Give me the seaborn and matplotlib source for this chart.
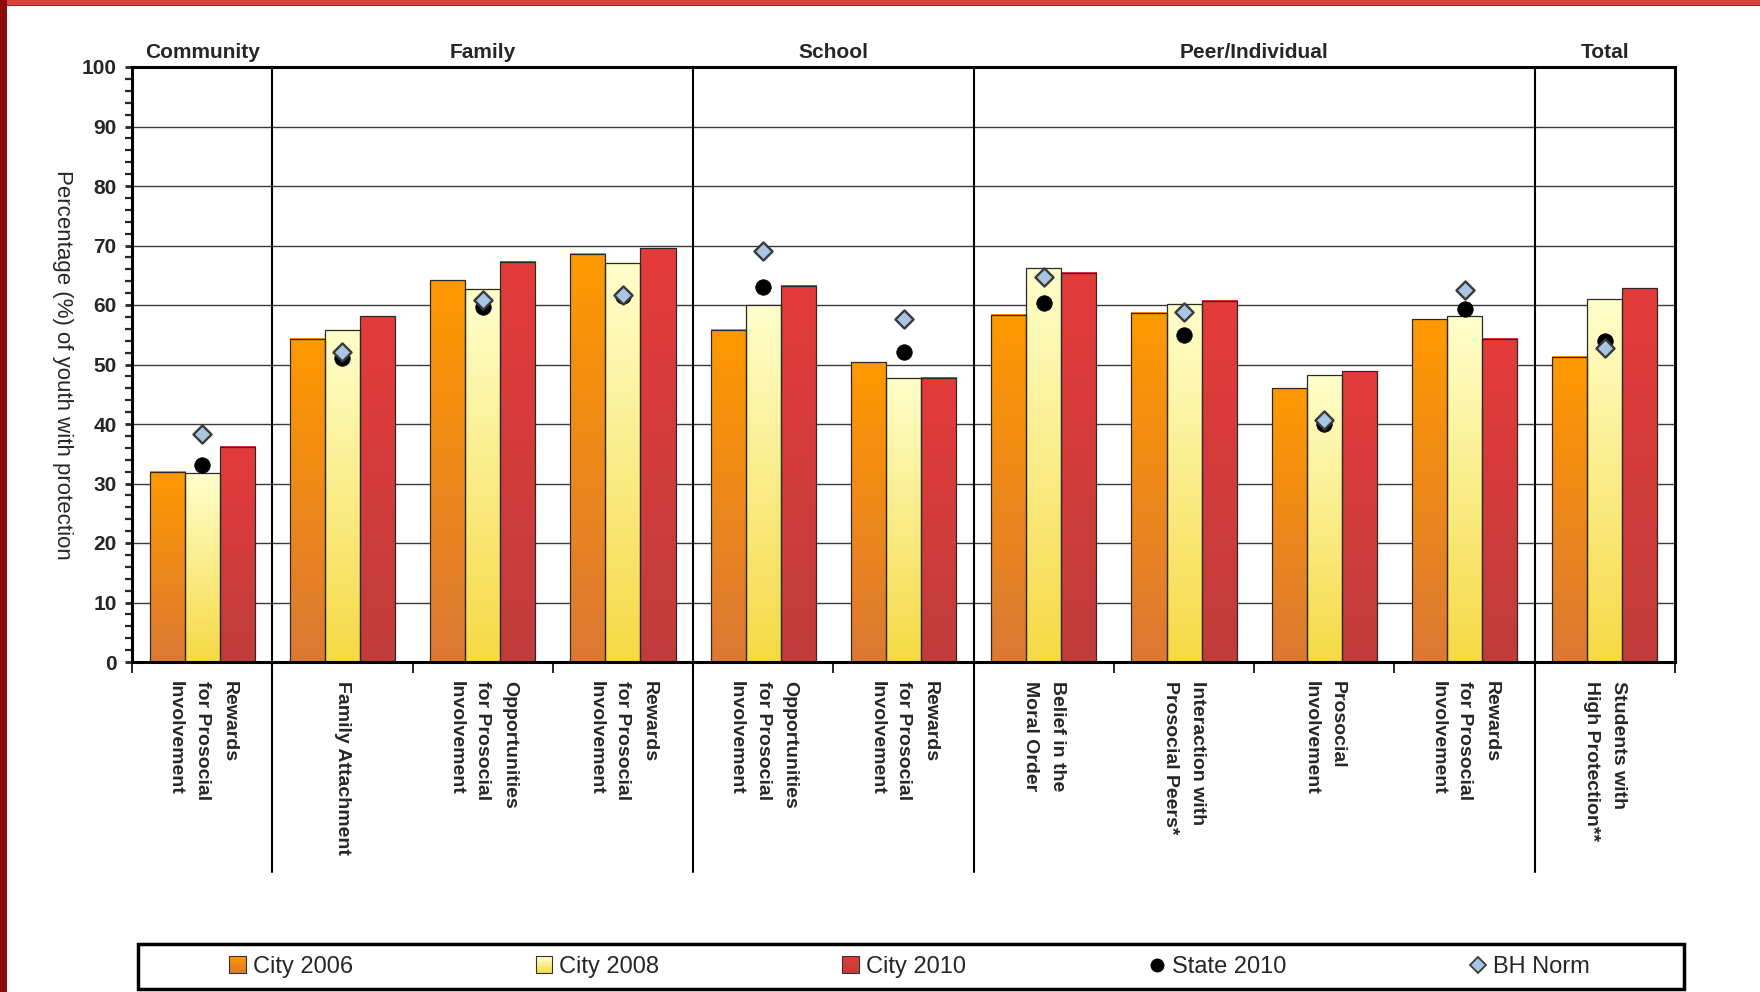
import numpy as np
import pandas as pd
import matplotlib
matplotlib.use("Agg")
import matplotlib.pyplot as plt
import matplotlib.colors as mcolors
from matplotlib.patches import Rectangle, Patch
from matplotlib.lines import Line2D
from matplotlib.legend_handler import HandlerBase
from matplotlib.ticker import MultipleLocator, FixedLocator
import seaborn as sns

# ---------------- data ----------------
categories = [
    "Rewards\nfor Prosocial\nInvolvement",
    "Family Attachment",
    "Opportunities\nfor Prosocial\nInvolvement",
    "Rewards\nfor Prosocial\nInvolvement",
    "Opportunities\nfor Prosocial\nInvolvement",
    "Rewards\nfor Prosocial\nInvolvement",
    "Belief in the\nMoral Order",
    "Interaction with\nProsocial Peers*",
    "Prosocial\nInvolvement",
    "Rewards\nfor Prosocial\nInvolvement",
    "Students with\nHigh Protection**",
]
group_names = ["Community", "Family", "School", "Peer/Individual", "Total"]
group_first = [0, 1, 4, 6, 10]
group_last = [0, 3, 5, 9, 10]

city_2006 = [32.0, 54.3, 64.2, 68.6, 55.8, 50.4, 58.4, 58.7, 46.0, 57.6, 51.3]
city_2008 = [31.7, 55.8, 62.7, 67.1, 60.0, 47.8, 66.2, 60.2, 48.2, 58.1, 61.0]
city_2010 = [36.2, 58.1, 67.3, 69.5, 63.2, 47.8, 65.4, 60.7, 48.9, 54.3, 62.8]
state_2010 = [33.1, 51.1, 59.7, 61.5, 63.0, 52.1, 60.4, 54.9, 40.0, 59.3, 53.9]
bh_norm = [38.4, 52.1, 60.8, 61.6, 69.0, 57.6, 64.7, 58.8, 40.7, 62.6, 52.8]

series_names = ["City 2006", "City 2008", "City 2010"]
y_ticks = [0, 10, 20, 30, 40, 50, 60, 70, 80, 90, 100]

# ---------------- style ----------------
grad = {
    "City 2006": ("#FF9900", "#DC7833"),   # (top, bottom)
    "City 2008": ("#FFFFCC", "#F6D944"),
    "City 2010": ("#E43B3B", "#C03D3A"),
}
flat = {"City 2006": "#F08A1C", "City 2008": "#FBE98A", "City 2010": "#D63B3B"}

sns.set_style("white")
plt.rcParams["font.family"] = ["Liberation Sans", "DejaVu Sans"]

W, H = 1760, 992
fig = plt.figure(figsize=(W / 100, H / 100), dpi=100)
ax_l, ax_r, ax_t, ax_b = 132, 1675, 67, 662
ax = fig.add_axes([ax_l / W, 1 - ax_b / H, (ax_r - ax_l) / W, (ax_b - ax_t) / H])

# long data for seaborn
pos = list(range(len(categories)))
df = pd.DataFrame({
    "pos": pos * 3,
    "value": city_2006 + city_2008 + city_2010,
    "series": [s for s in series_names for _ in pos],
})

sns.barplot(data=df, x="pos", y="value", hue="series", hue_order=series_names,
            palette=flat, width=0.75, gap=0, edgecolor="#2a2a2a", linewidth=0.9,
            saturation=1, legend=False, ax=ax, zorder=2)

# gradient fill for each bar
hex_to_series = {mcolors.to_hex(v): k for k, v in flat.items()}
bars = [p for p in ax.patches if isinstance(p, Rectangle)]
for p in bars:
    key = hex_to_series.get(mcolors.to_hex(p.get_facecolor()))
    if key is None:
        continue
    top, bot = grad[key]
    cmap = mcolors.LinearSegmentedColormap.from_list(key, [bot, top])
    x0, y0, w, h = p.get_x(), p.get_y(), p.get_width(), p.get_height()
    g = np.linspace(0, 1, 256).reshape(-1, 1)
    ax.imshow(g, extent=[x0, x0 + w, y0, y0 + h], origin="lower", aspect="auto",
              cmap=cmap, interpolation="bilinear", zorder=1.9)
    p.set_facecolor("none")
    p.set_zorder(2.1)

# markers
sns.scatterplot(x=pos, y=state_2010, marker="o", s=125, color="black",
                edgecolor="black", linewidth=0.5, zorder=4, ax=ax, legend=False)
sns.scatterplot(x=pos, y=bh_norm, marker="D", s=85, color="#A9C5E4",
                edgecolor="#3A3A3A", linewidth=1.7, zorder=5, ax=ax, legend=False)

ax.set_xlim(-0.5, len(categories) - 0.5)
ax.set_ylim(0, 100)
ax.set_xlabel("")

# grid
for v in y_ticks[1:-1]:
    ax.axhline(v, color="#3a3a3a", lw=1.0, zorder=1)

# spines
for s in ax.spines.values():
    s.set_visible(True)
    s.set_color("black")
    s.set_linewidth(2.2)
    s.set_zorder(6)

# y axis
ax.set_yticks(y_ticks)
ax.yaxis.set_minor_locator(MultipleLocator(2))
ax.tick_params(axis="y", which="major", direction="out", length=5, width=2,
               pad=6, labelsize=15, left=True)
ax.tick_params(axis="y", which="minor", direction="out", length=5, width=1.6, left=True)
for t in ax.get_yticklabels():
    t.set_fontweight("bold")
ax.set_ylabel("Percentage (%) of youth with protection", rotation=270,
              fontsize=16, va="center", ha="center")
ax.yaxis.set_label_coords((62 - ax_l) / (ax_r - ax_l), 0.5)

# x axis
ax.set_xticks(pos)
ax.set_xticklabels(categories, rotation=270, ha="center", va="top",
                   multialignment="left", fontsize=14, fontweight="bold",
                   linespacing=1.75)
ax.xaxis.set_minor_locator(FixedLocator(np.arange(-0.5, len(categories), 1.0)))
ax.tick_params(axis="x", which="major", length=0, pad=14, bottom=True)
ax.tick_params(axis="x", which="minor", direction="out", length=8, width=1.4, bottom=True)

# group separators and headers
bottom_ext = (ax_b - 872) / (ax_b - ax_t)
trans = ax.get_xaxis_transform()
for gl in group_last[:-1]:
    ax.plot([gl + 0.5, gl + 0.5], [1, bottom_ext], transform=trans, color="black",
            lw=1.5, clip_on=False, zorder=6)
for name, a, b in zip(group_names, group_first, group_last):
    ax.text((a + b) / 2, (ax_b - 52) / (ax_b - ax_t), name, transform=trans,
            ha="center", va="center", fontsize=15, fontweight="bold")

# legend frame
lx0, lx1, ly0, ly1 = 138, 1684, 944, 989
fig.patches.append(Rectangle((lx0 / W, 1 - ly1 / H), (lx1 - lx0) / W, (ly1 - ly0) / H,
                             transform=fig.transFigure, fill=False, edgecolor="black",
                             lw=2.5, zorder=10))


class GradHandler(HandlerBase):
    def __init__(self, top, bottom):
        super().__init__()
        self.top = np.array(mcolors.to_rgb(top))
        self.bottom = np.array(mcolors.to_rgb(bottom))

    def create_artists(self, legend, orig_handle, xdescent, ydescent, width, height,
                       fontsize, trans):
        size = min(width, height)
        x0 = -xdescent + (width - size) / 2
        y0 = -ydescent + (height - size) / 2
        n = 12
        arts = []
        for i in range(n):
            f = (i + 0.5) / n
            c = self.bottom * (1 - f) + self.top * f
            arts.append(Rectangle((x0, y0 + i * size / n), size, size / n * 1.05,
                                  facecolor=c, edgecolor="none", transform=trans))
        arts.append(Rectangle((x0, y0), size, size, facecolor="none",
                              edgecolor="#333333", lw=0.8, transform=trans))
        return arts


handles = [Patch(label=s) for s in series_names]
handles.append(Line2D([], [], marker="o", color="black", linestyle="none",
                      markersize=9, label="State 2010"))
handles.append(Line2D([], [], marker="D", color="#A9C5E4", markeredgecolor="#3A3A3A",
                      markeredgewidth=1.3, linestyle="none", markersize=8, label="BH Norm"))
hmap = {h: GradHandler(*grad[s]) for h, s in zip(handles[:3], series_names)}

ex0, ex1 = 229, 1590
fig.legend(handles=handles, labels=[h.get_label() for h in handles], ncol=5,
           loc="center left", mode="expand",
           bbox_to_anchor=(ex0 / W, 1 - 967 / H, (ex1 - ex0) / W, 0.0),
           bbox_transform=fig.transFigure, frameon=False, fontsize=17,
           handlelength=0.7, handleheight=0.7, handletextpad=0.3, borderpad=0,
           borderaxespad=0, handler_map=hmap)

# page border decorations
fig.patches.append(Rectangle((0, 1 - 5 / H), 1, 5 / H, transform=fig.transFigure,
                             facecolor="#D9413D", edgecolor="none", zorder=20))
fig.patches.append(Rectangle((0, 1 - 6 / H), 1, 1.2 / H, transform=fig.transFigure,
                             facecolor="#9E2320", edgecolor="none", zorder=21))
fig.patches.append(Rectangle((0, 0), 7 / W, 1, transform=fig.transFigure,
                             facecolor="#8B0B0B", edgecolor="none", zorder=22))

fig.savefig("out.png", dpi=100)
